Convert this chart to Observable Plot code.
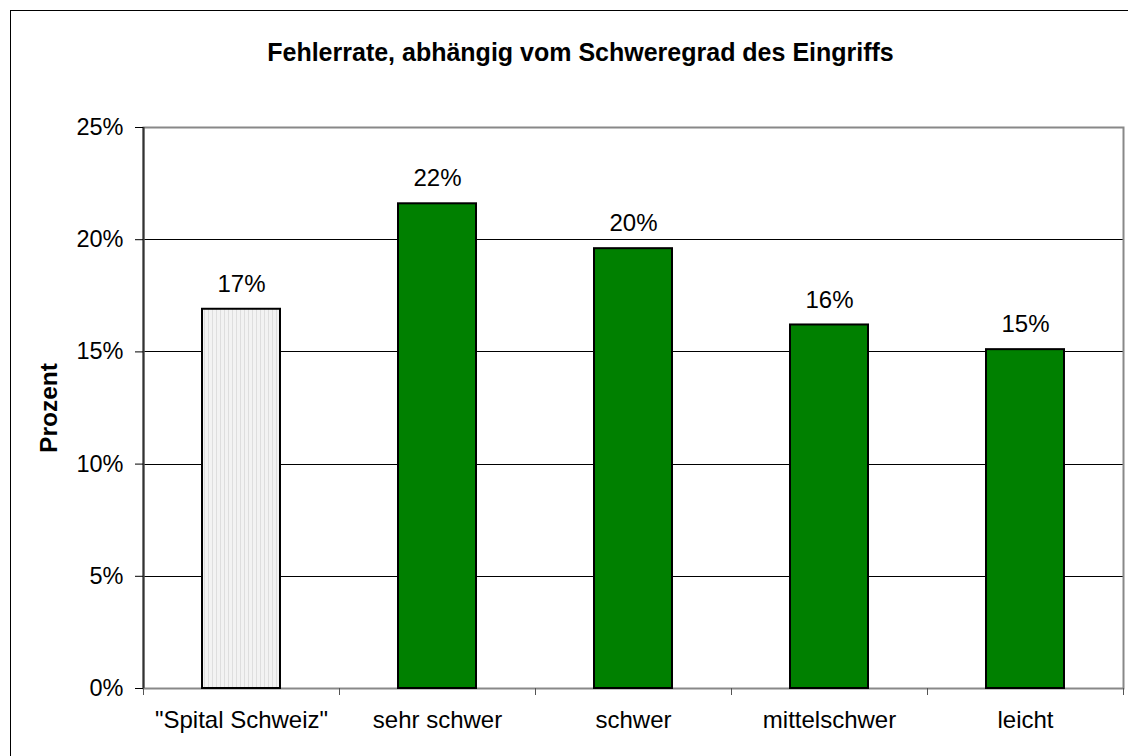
<!DOCTYPE html>
<html>
<head>
<meta charset="utf-8">
<script src="https://cdn.jsdelivr.net/npm/d3@7"></script>
<script src="https://cdn.jsdelivr.net/npm/@observablehq/plot@0.6"></script>
<style>
  html, body { margin: 0; padding: 0; background: #fff; overflow: hidden; }
  #wrap { position: relative; width: 1128px; height: 756px; overflow: hidden; }
  #frame { position: absolute; left: 10px; top: 10px; width: 1140px; height: 770px; border: 1.5px solid #000; box-sizing: border-box; pointer-events: none; }
  svg { font-family: "Liberation Sans", Arial, sans-serif; }
</style>
</head>
<body>
<div id="wrap"><div id="frame"></div></div>
<script>
const title = "Fehlerrate, abhängig vom Schweregrad des Eingriffs";
const yLabel = "Prozent";
const categories = ["\"Spital Schweiz\"", "sehr schwer", "schwer", "mittelschwer", "leicht"];
const values = [16.9, 21.6, 19.6, 16.2, 15.1];
const valueLabels = ["17%", "22%", "20%", "16%", "15%"];
const yTicks = [0, 5, 10, 15, 20, 25];
const gridTicks = [5, 10, 15, 20];
const fills = ["url(#stripes)", "#008000", "#008000", "#008000", "#008000"];

const data = categories.map((c, i) => ({cat: c, i, value: values[i], label: valueLabels[i], fill: fills[i]}));

const chart = Plot.plot({
  width: 1128,
  height: 756,
  marginLeft: 143,
  marginRight: 5,
  marginTop: 127,
  marginBottom: 68,
  style: {fontFamily: "Liberation Sans, Arial, sans-serif", fontSize: "23px", color: "#000", background: "transparent"},
  x: {type: "linear", domain: [0, 5]},
  y: {domain: [0, 25]},
  marks: [
    Plot.ruleY(gridTicks, {stroke: "#000", strokeWidth: 1, shapeRendering: "crispEdges"}),
    Plot.frame({stroke: "#888", strokeWidth: 2}),
    Plot.rectY(data, {x1: "i", x2: d => d.i + 1, y: "value", fill: "fill", stroke: "#000", strokeWidth: 2, insetLeft: 59, insetRight: 59}),
    Plot.text(data, {x: d => d.i + 0.5, y: "value", text: "label", dy: -25, fontSize: 24, fill: "#000"}),
    Plot.text(data, {x: d => d.i + 0.5, text: "cat", frameAnchor: "bottom", lineAnchor: "middle", dy: 32, fontSize: 24, fill: "#000"}),
    Plot.ruleX([0], {stroke: "#333", strokeWidth: 2}),
    Plot.axisY({ticks: yTicks, tickFormat: d => d + "%", tickSize: 8, tickPadding: 12, fontSize: 23.5, label: null, stroke: "#000"}),
    Plot.axisX({ticks: [0, 1, 2, 3, 4, 5], tickFormat: () => "", tickSize: 7, label: null, stroke: "#555"}),
    Plot.text([yLabel], {frameAnchor: "left", textAnchor: "middle", lineAnchor: "middle", rotate: -90, dx: -94, fontWeight: "bold", fontSize: 24.5, fill: "#000"}),
    Plot.text([title], {frameAnchor: "top", lineAnchor: "middle", dx: -53, dy: -75, fontWeight: "bold", fontSize: 25, fill: "#000"})
  ]
});

const svg = d3.select(chart);
const defs = svg.insert("defs", ":first-child");
const pat = defs.append("pattern").attr("id", "stripes").attr("patternUnits", "userSpaceOnUse").attr("width", 4).attr("height", 4);
pat.append("rect").attr("width", 4).attr("height", 4).attr("fill", "#f3f3f3");
pat.append("rect").attr("width", 1).attr("height", 4).attr("fill", "#dedede");

document.getElementById("wrap").insertBefore(chart, document.getElementById("frame"));
</script>
</body>
</html>
